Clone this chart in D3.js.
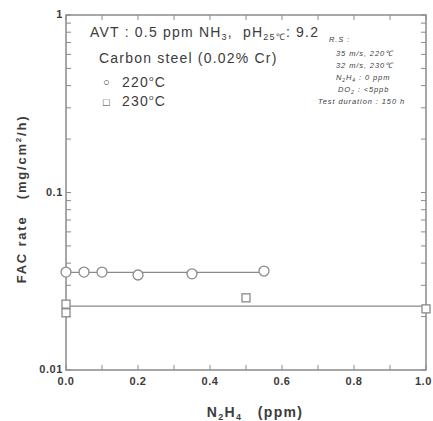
<!DOCTYPE html>
<html>
<head>
<meta charset="UTF-8" />
<script src="https://cdnjs.cloudflare.com/ajax/libs/d3/7.8.5/d3.min.js"></script>
<style>
  body { margin: 0; background: #fff; }
  text { font-family: "Liberation Sans", Arial, sans-serif; fill: #3c3c3c; }
</style>
</head>
<body>
<div class="chart"></div>
<script>
// data
const n2h4_220 = [0.0, 0.05, 0.1, 0.2, 0.35, 0.55]
const fac_220 = [0.0356, 0.0356, 0.0356, 0.0343, 0.0348, 0.0361]
const n2h4_230 = [0.0, 0.0, 0.5, 1.0]
const fac_230 = [0.0235, 0.021, 0.0255, 0.0221]
const fit_220 = [[0.0, 0.0355], [0.55, 0.0355]]
const fit_230 = [[0.0, 0.0229], [1.0, 0.0229]]
const xTicks = [0, 0.2, 0.4, 0.6, 0.8, 1.0]
const yTicks = [0.01, 0.1, 1]

const W = 433, H = 421
const plotL = 66, plotR = 426, plotT = 15, plotB = 370
const lineCol = '#8a8a8a'

const svg = d3.select('.chart').append('svg').attr('width', W).attr('height', H)

const x = d3.scaleLinear().domain([0, 1]).range([plotL, plotR])
const y = d3.scaleLog().domain([0.01, 1]).range([plotB, plotT])

// minor ticks
const xMinor = d3.range(0, 1.0001, 0.1)
const yMinor = []
;[0.01, 0.1].forEach(d => { for (let k = 2; k <= 9; k++) yMinor.push(d * k) })

const g = svg.append('g').attr('stroke', lineCol).attr('stroke-width', 1)
xMinor.forEach(v => {
  g.append('line').attr('x1', x(v)).attr('x2', x(v)).attr('y1', plotB).attr('y2', plotB - 5)
  g.append('line').attr('x1', x(v)).attr('x2', x(v)).attr('y1', plotT).attr('y2', plotT + 5)
})
yMinor.concat(yTicks).forEach(v => {
  g.append('line').attr('x1', plotL).attr('x2', plotL + 5).attr('y1', y(v)).attr('y2', y(v))
  g.append('line').attr('x1', plotR).attr('x2', plotR - 5).attr('y1', y(v)).attr('y2', y(v))
})

// frame
svg.append('rect').attr('x', plotL).attr('y', plotT)
  .attr('width', plotR - plotL).attr('height', plotB - plotT)
  .attr('fill', 'none').attr('stroke', lineCol).attr('stroke-width', 1.5)

// tick labels (last one kept inside the window)
svg.selectAll('.xl').data(xTicks).join('text')
  .attr('x', d => d === 1 ? W - 1 : x(d)).attr('y', plotB + 15)
  .attr('text-anchor', d => d === 1 ? 'end' : 'middle')
  .attr('font-size', 11).attr('font-weight', 'bold')
  .attr('letter-spacing', 0.6)
  .text(d => d3.format('.1f')(d))
svg.selectAll('.yl').data(yTicks).join('text')
  .attr('x', plotL - 3).attr('y', d => y(d) + 3)
  .attr('text-anchor', 'end').attr('font-size', 11).attr('font-weight', 'bold')
  .attr('letter-spacing', 0.6)
  .text(d => d === 1 ? '1' : String(d))

// axis titles
svg.append('text').attr('x', 255).attr('y', 417).attr('text-anchor', 'middle')
  .attr('font-size', 14).attr('font-weight', 'bold').attr('letter-spacing', 1.3)
  .html('N<tspan font-size="9" dy="3">2</tspan><tspan dy="-3">H</tspan><tspan font-size="9" dy="3">4</tspan><tspan dy="-3" xml:space="preserve">   (ppm)</tspan>')
svg.append('text').attr('transform', 'translate(26,199) rotate(-90)').attr('text-anchor', 'middle')
  .attr('font-size', 13).attr('font-weight', 'bold').attr('letter-spacing', 1.8)
  .html('<tspan xml:space="preserve">FAC rate   (mg/cm</tspan><tspan font-size="8" dy="-5">2</tspan><tspan dy="5">/h)</tspan>')

// fit lines
const line = d3.line().x(d => x(d[0])).y(d => y(d[1]))
svg.append('path').datum(fit_220).attr('d', line).attr('fill', 'none').attr('stroke', lineCol).attr('stroke-width', 1.3)
svg.append('path').datum(fit_230).attr('d', line).attr('fill', 'none').attr('stroke', lineCol).attr('stroke-width', 1.3)

// markers
svg.selectAll('.c220').data(n2h4_220).join('circle')
  .attr('cx', d => x(d)).attr('cy', (d, i) => y(fac_220[i])).attr('r', 5)
  .attr('fill', '#fff').attr('stroke', lineCol).attr('stroke-width', 1.3)
svg.selectAll('.s230').data(n2h4_230).join('rect')
  .attr('x', d => x(d) - 4).attr('y', (d, i) => y(fac_230[i]) - 4)
  .attr('width', 8).attr('height', 8)
  .attr('fill', '#fff').attr('stroke', lineCol).attr('stroke-width', 1.3)

// annotations
const ann = svg.append('g').attr('letter-spacing', 1.2)
ann.append('text').attr('x', 90).attr('y', 37).attr('font-size', 14)
  .html('AVT : 0.5 ppm NH<tspan font-size="9" dy="3">3</tspan><tspan dy="-3" xml:space="preserve">,  pH</tspan><tspan font-size="9" dy="3">25℃</tspan><tspan dy="-3">: 9.2</tspan>')
ann.append('text').attr('x', 99).attr('y', 63).attr('font-size', 14).text('Carbon steel (0.02% Cr)')
ann.append('text').attr('x', 103).attr('y', 86).attr('font-size', 11).text('○')
ann.append('text').attr('x', 103).attr('y', 106).attr('font-size', 11).text('□')
ann.append('text').attr('x', 122).attr('y', 87).attr('font-size', 14)
  .html('220<tspan font-size="8" dy="-6">o</tspan><tspan dy="6">C</tspan>')
ann.append('text').attr('x', 122).attr('y', 106).attr('font-size', 14)
  .html('230<tspan font-size="8" dy="-6">o</tspan><tspan dy="6">C</tspan>')

const note = svg.append('g').attr('font-size', 7.5).attr('font-style', 'italic').attr('letter-spacing', 0.9)
note.append('text').attr('x', 329).attr('y', 42).text('R.S :')
note.append('text').attr('x', 336).attr('y', 56).text('35 m/s, 220℃')
note.append('text').attr('x', 336).attr('y', 68).text('32 m/s, 230℃')
note.append('text').attr('x', 336).attr('y', 80)
  .html('N<tspan font-size="5" dy="2">2</tspan><tspan dy="-2">H</tspan><tspan font-size="5" dy="2">4</tspan><tspan dy="-2"> : 0 ppm</tspan>')
note.append('text').attr('x', 338).attr('y', 92)
  .html('DO<tspan font-size="5" dy="2">2</tspan><tspan dy="-2"> : &lt;5ppb</tspan>')
note.append('text').attr('x', 318).attr('y', 104).text('Test duration : 150 h')
</script>
</body>
</html>
